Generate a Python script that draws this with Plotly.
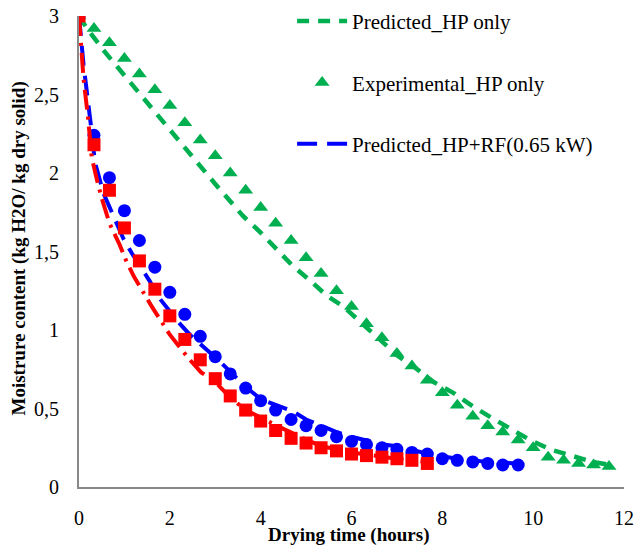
import plotly.graph_objects as go

# ---- data ----
t_hp_exp = [0, 0.33, 0.67, 1.0, 1.33, 1.67, 2.0, 2.33, 2.67, 3.0, 3.33, 3.67, 4.0, 4.33, 4.67,
            5.0, 5.33, 5.67, 6.0, 6.33, 6.67, 7.0, 7.33, 7.67, 8.0, 8.33, 8.67, 9.0, 9.33, 9.67,
            10.0, 10.33, 10.67, 11.0, 11.33, 11.67]
mc_hp_exp = [3.0, 2.92, 2.83, 2.73, 2.63, 2.53, 2.43, 2.32, 2.21, 2.11, 2.0, 1.89, 1.78, 1.68, 1.57,
             1.46, 1.36, 1.25, 1.15, 1.04, 0.95, 0.85, 0.77, 0.68, 0.60, 0.52, 0.45, 0.39, 0.35, 0.30,
             0.25, 0.19, 0.17, 0.15, 0.14, 0.13]

t_hp_pred = [0, 0.2, 0.6, 1.0, 1.5, 2.0, 2.5, 3.0, 3.33, 3.6, 4.0, 4.34, 4.7, 5.07, 5.45, 5.82,
             6.23, 6.59, 7.0, 7.4, 7.8, 8.24, 8.69, 9.09, 9.49, 9.93, 10.37, 10.81, 11.3, 11.7]
mc_hp_pred = [3.0, 2.91, 2.76, 2.62, 2.45, 2.27, 2.1, 1.93, 1.82, 1.73, 1.62, 1.52, 1.41, 1.32, 1.22, 1.15,
              1.04, 0.95, 0.84, 0.76, 0.67, 0.60, 0.51, 0.44, 0.37, 0.30, 0.24, 0.20, 0.16, 0.14]

t_rf_exp = [0, 0.33, 0.67, 1.0, 1.33, 1.67, 2.0, 2.33, 2.67, 3.0, 3.33, 3.67, 4.0, 4.33, 4.67,
            5.0, 5.33, 5.67, 6.0, 6.33, 6.67, 7.0, 7.33, 7.67, 8.0, 8.33, 8.67, 9.0, 9.33, 9.67]
mc_rf_exp = [3.0, 2.24, 1.97, 1.76, 1.57, 1.40, 1.24, 1.10, 0.96, 0.83, 0.72, 0.63, 0.55, 0.49, 0.43,
             0.39, 0.36, 0.32, 0.29, 0.27, 0.25, 0.24, 0.22, 0.21, 0.18, 0.17, 0.16, 0.15, 0.14, 0.14]

t_rf_pred = [0, 0.1, 0.28, 0.35, 0.54, 0.70, 0.98, 1.16, 1.56, 1.75, 2.19, 2.44, 3.1, 3.66, 4.0,
             4.72, 5.0, 5.67, 6.0, 6.7, 7.0, 7.7, 8.33, 9.0, 9.67]
mc_rf_pred = [3.0, 2.69, 2.26, 2.07, 1.87, 1.76, 1.58, 1.49, 1.31, 1.21, 1.05, 0.97, 0.80, 0.64, 0.56,
              0.48, 0.43, 0.35, 0.32, 0.27, 0.26, 0.21, 0.18, 0.16, 0.15]

t_rf2_exp = [0, 0.33, 0.67, 1.0, 1.33, 1.67, 2.0, 2.33, 2.67, 3.0, 3.33, 3.67, 4.0, 4.33, 4.67,
             5.0, 5.33, 5.67, 6.0, 6.33, 6.67, 7.0, 7.33, 7.67]
mc_rf2_exp = [3.0, 2.18, 1.89, 1.65, 1.44, 1.26, 1.09, 0.94, 0.81, 0.69, 0.58, 0.49, 0.42, 0.36, 0.31,
              0.28, 0.25, 0.23, 0.21, 0.20, 0.19, 0.18, 0.17, 0.15]

t_rf2_pred = [0, 0.05, 0.1, 0.2, 0.28, 0.4, 0.5, 0.67, 0.9, 1.04, 1.21, 1.58, 1.77, 2.0, 2.41, 2.69,
              3.0, 3.33, 3.67, 4.0, 4.5, 4.87, 5.33, 5.67, 6.0, 6.5, 7.0, 7.67]
mc_rf2_pred = [3.0, 2.8, 2.6, 2.35, 2.1, 1.95, 1.84, 1.68, 1.54, 1.44, 1.34, 1.16, 1.07, 0.97, 0.82, 0.73,
               0.67, 0.57, 0.49, 0.44, 0.37, 0.32, 0.26, 0.24, 0.22, 0.20, 0.18, 0.16]

x_ticks = [0, 2, 4, 6, 8, 10, 12]
y_ticks = [0, 0.5, 1, 1.5, 2, 2.5, 3]
y_tick_text = ["0", "0,5", "1", "1,5", "2", "2,5", "3"]

GREEN = "#00B050"
BLUE = "#0000FF"
RED = "#FF0000"
FONT = "Liberation Serif, Times New Roman, serif"

fig = go.Figure()

fig.add_trace(go.Scatter(x=t_hp_pred, y=mc_hp_pred, mode="lines", name="Predicted_HP only",
                         line=dict(color=GREEN, width=4.5, dash="12px,9px"),
                         legendgroup="a"))
fig.add_trace(go.Scatter(x=t_hp_exp, y=mc_hp_exp, mode="markers", name="Experimental_HP only",
                         marker=dict(color=GREEN, symbol="triangle-up", size=13),
                         legendgroup="b"))
fig.add_trace(go.Scatter(x=t_rf_pred, y=mc_rf_pred, mode="lines", name="Predicted_HP+RF(0.65 kW)",
                         line=dict(color=BLUE, width=4, dash="20px,10px"),
                         legendgroup="c"))
fig.add_trace(go.Scatter(x=t_rf_exp, y=mc_rf_exp, mode="markers", name="Experimental_HP+RF(0.65 kW)",
                         marker=dict(color=BLUE, symbol="circle", size=13),
                         showlegend=False))
fig.add_trace(go.Scatter(x=t_rf2_pred, y=mc_rf2_pred, mode="lines", name="Predicted_HP+RF",
                         line=dict(color=RED, width=4, dash="20px,7px,3px,7px"),
                         showlegend=False))
fig.add_trace(go.Scatter(x=t_rf2_exp, y=mc_rf2_exp, mode="markers", name="Experimental_HP+RF",
                         marker=dict(color=RED, symbol="square", size=13),
                         showlegend=False))

fig.update_layout(
    width=636, height=546,
    margin=dict(l=79, r=12, t=16, b=59, autoexpand=False),
    paper_bgcolor="white", plot_bgcolor="white",
    font=dict(family=FONT, size=20, color="black"),
    showlegend=True,
    legend=dict(x=0.391, y=1.032, xanchor="left", yanchor="top",
                bgcolor="rgba(0,0,0,0)", font=dict(family=FONT, size=21, color="black"),
                traceorder="grouped", tracegroupgap=31, itemwidth=50),
    xaxis=dict(range=[0, 12], tickvals=x_ticks, showgrid=False, zeroline=False,
               showline=True, linecolor="#898989", linewidth=2, ticks="", automargin=False,
               ticklabeloverflow="allow",
               ticklabelstandoff=12, tickfont=dict(family=FONT, size=20)),
    yaxis=dict(range=[0, 3], tickvals=y_ticks, ticktext=y_tick_text, showgrid=False,
               zeroline=False, showline=True, linecolor="#898989", linewidth=2, ticks="",
               automargin=False, ticklabeloverflow="allow",
               ticklabelstandoff=14, tickfont=dict(family=FONT, size=20)),
    annotations=[
        dict(text="<b>Drying time (hours)</b>", xref="paper", yref="paper",
             x=0.5, y=-0.1, yanchor="middle", xanchor="center", showarrow=False,
             font=dict(family=FONT, size=19, color="black"), xshift=-3, yshift=-1),
        dict(text="<b>Moistrure content (kg H2O/ kg dry solid)</b>", xref="paper", yref="paper",
             x=0, y=0.5, xanchor="center", yanchor="middle", textangle=-90, showarrow=False,
             xshift=-61, yshift=3,
             font=dict(family=FONT, size=19, color="black")),
    ],
)

# remove the page's default body margin so the figure fills the 636x546 window exactly
fig.write_html(
    "out.html",
    config={"displayModeBar": False},
    post_script=(
        "document.body.style.margin='0';"
        "document.body.style.overflow='hidden';"
        "document.documentElement.style.overflow='hidden';"
    ),
)
